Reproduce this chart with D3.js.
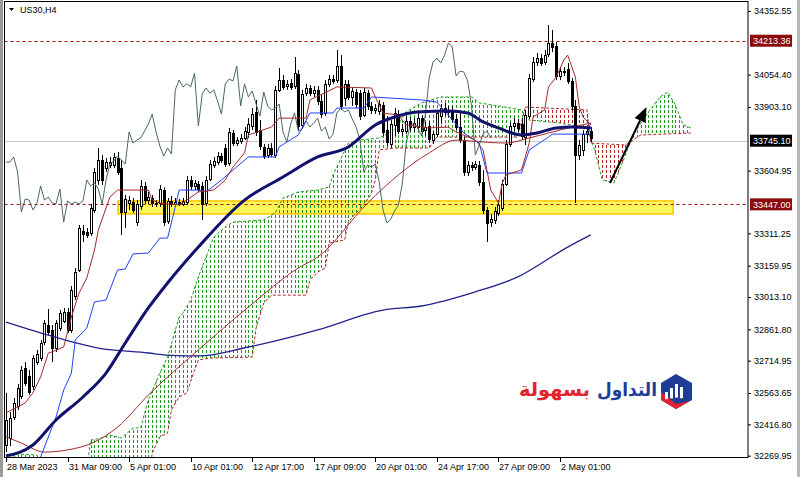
<!DOCTYPE html>
<html><head><meta charset="utf-8">
<script src="https://cdn.jsdelivr.net/npm/d3@7"></script>
<style>html,body{margin:0;padding:0;background:#fff;}svg{display:block;}</style>
</head><body><svg id="c" width="800" height="477"></svg>
<script>
// ---------- DATA (US30, H4) ----------
const openP=[
32320,32353,32451,32503,32549,32681,32643,32596,32709,32727,
32802,32882,32859,32774,32868,32901,32943,32859,33018,33140,
33322,33318,33313,33421,33561,33655,33617,33631,33631,33664,
33617,33411,33453,33458,33364,33439,33533,33467,33477,33453,
33453,33514,33369,33463,33449,33458,33449,33458,33561,33533,
33542,33533,33453,33566,33631,33645,33673,33711,33641,33781,
33734,33744,33758,33786,33814,33880,33795,33716,33678,33711,
33678,33983,34029,34001,34015,34001,34057,33819,33968,33992,
33968,33983,33931,33875,34011,34034,34029,34095,33945,34011,
33950,33973,33968,33865,33968,33908,33889,33884,33912,33795,
33730,33819,33870,33790,33790,33837,33809,33809,33851,33795,
33814,33748,33776,33861,33898,33880,33889,33847,33809,33748,
33599,33631,33622,33631,33552,33421,33364,33374,33407,33430,
33542,33730,33814,33828,33823,33762,33861,34034,34114,34132,
34114,34151,34203,34189,34048,34071,34081,34025,33908,33678,
33702,33776,33790];
const highP=[
32564,32475,32540,32606,32690,32709,32671,32741,32765,32812,
32905,32957,32882,32905,32952,32962,32962,33065,33149,33350,
33350,33336,33449,33617,33711,33678,33664,33669,33688,33692,
33655,33491,33486,33477,33467,33561,33552,33505,33491,33467,
33538,33528,33477,33486,33477,33472,33477,33580,33580,33561,
33556,33552,33580,33655,33669,33692,33688,33730,33805,33795,
33762,33776,33809,33851,33898,33936,33842,33730,33730,33734,
34001,34086,34053,34029,34034,34137,34076,33983,34011,34006,
34001,34001,33964,34029,34053,34053,34170,34146,34029,34029,
33992,33987,33983,33992,33983,33926,33917,33936,33926,33861,
33842,33898,33889,33823,33861,33856,33851,33875,33865,33833,
33837,33790,33889,33917,33922,33908,33908,33870,33875,33762,
33650,33645,33650,33650,33608,33435,33402,33435,33467,33561,
33748,33833,33851,33847,33851,33889,34057,34137,34156,34151,
34170,34287,34264,34207,34090,34090,34109,34039,33936,33748,
33795,33814,33809];
const lowP=[
32287,32315,32437,32484,32535,32596,32554,32578,32695,32713,
32788,32835,32709,32756,32854,32891,32845,32845,32999,33130,
33271,33289,33299,33407,33538,33538,33599,33617,33617,33585,
33304,33336,33421,33407,33346,33421,33449,33449,33435,33435,
33435,33346,33355,33435,33439,33439,33439,33444,33514,33514,
33505,33374,33439,33556,33617,33631,33641,33622,33627,33720,
33720,33730,33748,33758,33795,33767,33702,33659,33664,33669,
33664,33973,33983,33983,33983,33987,33795,33805,33954,33954,
33950,33912,33851,33861,33997,34011,34015,33889,33908,33936,
33908,33898,33842,33856,33889,33870,33870,33865,33767,33720,
33711,33767,33776,33767,33776,33790,33786,33795,33776,33767,
33734,33730,33762,33823,33861,33856,33833,33795,33734,33580,
33580,33603,33608,33533,33402,33271,33341,33355,33392,33416,
33533,33716,33790,33786,33748,33725,33847,34020,34095,34095,
34100,34137,34160,34029,34029,34048,34011,33889,33453,33655,
33673,33734,33739];
const closeP=[
32437,32446,32517,32587,32671,32610,32568,32727,32746,32798,
32891,32849,32774,32891,32938,32943,32859,33046,33130,33336,
33308,33304,33430,33599,33655,33561,33645,33645,33669,33599,
33411,33472,33467,33421,33449,33533,33467,33481,33453,33449,
33519,33364,33463,33449,33458,33449,33463,33561,33533,33547,
33519,33449,33561,33636,33650,33673,33655,33636,33786,33734,
33748,33758,33790,33823,33870,33786,33720,33673,33711,33683,
33983,34029,33997,34011,33997,34062,33814,33964,33992,33968,
33983,33931,33870,34011,34034,34025,34095,33908,34011,33950,
33978,33917,33861,33973,33908,33889,33898,33917,33786,33739,
33823,33875,33790,33800,33837,33809,33828,33851,33790,33809,
33753,33776,33875,33898,33880,33889,33847,33809,33748,33599,
33631,33622,33636,33552,33421,33360,33378,33416,33444,33542,
33730,33814,33828,33805,33767,33865,34039,34114,34132,34109,
34146,34203,34184,34048,34071,34067,34025,33908,33678,33725,
33776,33790,33758];

// time axis (bar index of each label)
const xTickIdx=[0,16,32,48,64,80,96,112,128,144];
const xTickLabels=["28 Mar 2023","31 Mar 09:00","5 Apr 01:00","10 Apr 01:00","12 Apr 17:00","17 Apr 09:00","20 Apr 01:00","24 Apr 17:00","27 Apr 09:00","2 May 01:00"];
// price axis
const yTicks=[34352.55,34054.40,33903.10,33604.95,33311.25,33159.95,33013.10,32861.80,32714.95,32563.65,32416.80,32269.95];
const resistLevel=34213.36, bidLevel=33745.10, supportLevel=33447.00;
const zoneIdx=[29.1,173.4], zonePrice=[33402,33463];

// moving averages (bar index, value)
const maFastIdx=[0,7,13,20,26,31,37,42,50,62,72,81,89,96,101,107,115,120,124,128,134,138,143,147,152];
const maFastVal=[32269,32320,32437,32545,32657,32798,32962,33079,33247,33467,33575,33669,33716,33819,33856,33880,33884,33875,33833,33805,33772,33781,33805,33809,33805];
const maSlowIdx=[0,11,24,37,42,50,63,76,81,98,108,122,133,146,152];
const maSlowVal=[32896,32835,32774,32751,32741,32737,32779,32835,32859,32952,32971,33037,33107,33247,33304];
const maRedIdx=[0,4,10,16,23,29,37,50,63,76,81,94,102,110,117,124,130,136,144,152];
const maRedVal=[32358,32329,32287,32297,32334,32404,32554,32765,32966,33149,33200,33453,33585,33688,33748,33739,33734,33758,33795,33828];

// Ichimoku
const tenkanIdx=[0,3,5,7,9,11,12,15,17,19,21,23,24,27,29,37,38,40,45,47,50,54,57,59,62,63,69,71,78,79,86,95,96,98,102,104,110,115,117,122,124,126,128,129,130,134,136,137,140,141,143,145,146,148,149,150,152];
const tenkanVal=[32470,32498,32517,32564,32639,32751,32756,32779,32920,33032,33102,33233,33327,33481,33514,33514,33467,33453,33444,33467,33505,33514,33561,33622,33688,33772,33809,33851,33851,33936,33997,33992,33950,33875,33865,33819,33805,33809,33786,33748,33702,33514,33453,33547,33585,33608,33734,33856,33889,33997,34043,34123,34146,34043,33903,33856,33819];
const kijunIdx=[6,9,13,15,17,18,21,23,26,29,31,33,37,40,42,44,45,50,52,56,59,63,70,71,76,79,85,86,93,95,108,112,119,123,125,134,136,141,142,151,152];
const kijunVal=[32203,32264,32451,32578,32657,32812,32868,32990,32999,33140,33144,33215,33219,33289,33289,33435,33514,33514,33505,33561,33608,33669,33669,33716,33772,33875,33875,33898,33898,33950,33936,33926,33781,33734,33594,33594,33702,33762,33776,33776,33828];
const senkouAIdx=[0,2,8,10,21,22,25,27,30,33,35,37,40,42,45,46,48,50,52,54,57,59,67,70,72,76,81,84,85,89,92,97,101,104,108,113,121,123,128,134,136,144,151,153,155,158,160,163,167,170,172,174,176,178];
const senkouAVal=[32203,32278,32273,32203,32203,32343,32353,32367,32353,32400,32400,32531,32657,32732,32920,32938,32999,33107,33200,33294,33341,33364,33374,33407,33477,33505,33514,33528,33585,33734,33748,33758,33795,33880,33922,33950,33950,33922,33908,33889,33842,33828,33805,33702,33561,33547,33631,33772,33880,33950,33973,33912,33819,33805];
const senkouBIdx=[0,37,38,40,42,43,45,47,49,50,53,64,65,67,69,78,79,81,83,84,88,89,91,93,95,96,97,101,110,112,133,135,151,152,161,165,178];
const senkouBVal=[32109,32109,32283,32358,32376,32484,32545,32564,32671,32718,32727,32732,32868,32985,33022,33022,33093,33130,33149,33266,33280,33364,33407,33444,33500,33561,33702,33711,33711,33762,33762,33903,33889,33734,33725,33772,33781];
const chikouShift=26;
const arrowFrom=[157,33547], arrowTo=[166.5,33903];

// ---------- DRAW ----------
const svg=d3.select("#c");
const L=4.5,T=2.5,R=748,B=458;
const x=d3.scaleLinear().domain([0,144]).range([6,560]);
const y=d3.scaleLinear().domain([32269.95,34352.55]).range([455.7,11]);
const zip=(a,b)=>a.map((v,i)=>[v,b[i]]);
const FONT="'Liberation Sans', Arial, sans-serif";

svg.append("rect").attr("width",800).attr("height",477).attr("fill","#fff");
const defs=svg.append("defs");
defs.append("clipPath").attr("id","plot").append("rect").attr("x",L+0.5).attr("y",T+0.5).attr("width",R-L-1).attr("height",B-T-1);

const A=zip(senkouAIdx,senkouAVal), Bs=zip(senkouBIdx,senkouBVal);
const areaBelow=d=>d3.area().x(p=>x(p[0])).y0(p=>y(p[1])).y1(600)(d);
const areaAbove=d=>d3.area().x(p=>x(p[0])).y0(-100).y1(p=>y(p[1]))(d);
defs.append("clipPath").attr("id","belowA").append("path").attr("d",areaBelow(A));
defs.append("clipPath").attr("id","aboveA").append("path").attr("d",areaAbove(A));
defs.append("clipPath").attr("id","belowB").append("path").attr("d",areaBelow(Bs));
defs.append("clipPath").attr("id","aboveB").append("path").attr("d",areaAbove(Bs));

const plot=svg.append("g").attr("clip-path","url(#plot)");

// support zone
plot.append("rect").attr("x",x(zoneIdx[0])).attr("width",x(zoneIdx[1])-x(zoneIdx[0]))
  .attr("y",y(zonePrice[1])).attr("height",y(zonePrice[0])-y(zonePrice[1]))
  .attr("fill","#FFF75A").attr("stroke","#FFC400").attr("stroke-width",1.5);

// bid line
plot.append("line").attr("x1",L).attr("x2",R).attr("y1",Math.round(y(bidLevel))+0.5).attr("y2",Math.round(y(bidLevel))+0.5)
  .attr("stroke","#C8C8C8").attr("stroke-width",1);

// cloud hatching
const hatchIdx=d3.range(0,d3.max(senkouAIdx)+1);
function hatch(outer,inner,color){
  const g=plot.append("g").attr("clip-path",`url(#${outer})`).append("g").attr("clip-path",`url(#${inner})`);
  g.selectAll("line").data(hatchIdx).join("line")
    .attr("x1",d=>Math.round(x(d))+0.5).attr("x2",d=>Math.round(x(d))+0.5)
    .attr("y1",0).attr("y2",B).attr("stroke",color).attr("stroke-width",1).attr("stroke-dasharray","3,2");
}
hatch("belowA","aboveB","#1E9A1E");
hatch("belowB","aboveA","#B22222");
const line=d3.line().x(p=>x(p[0])).y(p=>y(p[1]));
plot.append("path").attr("d",line(A)).attr("fill","none").attr("stroke","#1E9A1E").attr("stroke-dasharray","3,2");
plot.append("path").attr("d",line(Bs)).attr("fill","none").attr("stroke","#B22222").attr("stroke-dasharray","3,2");

// horizontal levels
[resistLevel,supportLevel].forEach(v=>{
  const yy=Math.round(y(v))+0.5;
  plot.append("line").attr("x1",L).attr("x2",R).attr("y1",yy).attr("y2",yy)
    .attr("stroke","#A01010").attr("stroke-width",1).attr("stroke-dasharray","3,3");
});

// candles
const bars=d3.range(openP.length);
const cg=plot.append("g");
cg.selectAll("line").data(bars).join("line")
  .attr("x1",i=>Math.round(x(i))+0.5).attr("x2",i=>Math.round(x(i))+0.5)
  .attr("y1",i=>y(highP[i])).attr("y2",i=>y(lowP[i])).attr("stroke","#000").attr("stroke-width",1);
cg.selectAll("rect").data(bars).join("rect")
  .attr("x",i=>Math.round(x(i))-0.5).attr("width",2)
  .attr("y",i=>Math.round(y(Math.max(openP[i],closeP[i])))+0.5)
  .attr("height",i=>Math.max(1,Math.round(y(Math.min(openP[i],closeP[i]))-y(Math.max(openP[i],closeP[i])))))
  .attr("fill",i=>closeP[i]>=openP[i]?"#fff":"#000").attr("stroke","#000").attr("stroke-width",1);

// indicator lines
const curve=d3.line().x(p=>x(p[0])).y(p=>y(p[1])).curve(d3.curveMonotoneX);
plot.append("path").attr("d",curve(zip(maSlowIdx,maSlowVal))).attr("fill","none").attr("stroke","#23238F").attr("stroke-width",1.3);
plot.append("path").attr("d",curve(zip(maRedIdx,maRedVal))).attr("fill","none").attr("stroke","#A52A2A").attr("stroke-width",1);
const chikou=closeP.slice(chikouShift).map((c,i)=>[i,c]);
plot.append("path").attr("d",line(chikou)).attr("fill","none").attr("stroke","#4A6666").attr("stroke-width",1);
plot.append("path").attr("d",line(zip(kijunIdx,kijunVal))).attr("fill","none").attr("stroke","#2040FF").attr("stroke-width",1);
plot.append("path").attr("d",line(zip(tenkanIdx,tenkanVal))).attr("fill","none").attr("stroke","#A52A2A").attr("stroke-width",1);
plot.append("path").attr("d",curve(zip(maFastIdx,maFastVal))).attr("fill","none").attr("stroke","#12126E").attr("stroke-width",3);

// arrow
{
  const x1=x(arrowFrom[0]),y1=y(arrowFrom[1]),x2=x(arrowTo[0]),y2=y(arrowTo[1]);
  const a=Math.atan2(y2-y1,x2-x1),hl=15,hw=6;
  const bx=x2-hl*Math.cos(a),by=y2-hl*Math.sin(a);
  plot.append("line").attr("x1",x1).attr("y1",y1).attr("x2",bx).attr("y2",by).attr("stroke","#000").attr("stroke-width",2);
  plot.append("path").attr("d",`M${x2},${y2}L${bx+hw*Math.sin(a)},${by-hw*Math.cos(a)}L${bx-hw*Math.sin(a)},${by+hw*Math.cos(a)}Z`).attr("fill","#000");
}

// frame
svg.append("rect").attr("x",0).attr("y",0).attr("width",3).attr("height",477).attr("fill","#9A9A9A");
svg.append("rect").attr("x",797).attr("y",0).attr("width",3).attr("height",477).attr("fill","#B8B8B8");
svg.append("rect").attr("x",L).attr("y",T-1).attr("width",R-L).attr("height",B-T+0.5)
  .attr("fill","none").attr("stroke","#000").attr("stroke-width",1);

// right axis
const ax=svg.append("g").attr("transform",`translate(${R},0)`)
  .call(d3.axisRight(y).tickValues(yTicks).tickSize(3).tickPadding(3).tickFormat(d3.format(".2f")));
ax.select(".domain").remove();
ax.selectAll("text").attr("font-family",FONT).attr("font-size",9).attr("fill","#000");
ax.selectAll("line").attr("stroke","#000");
[[resistLevel,"#8B0A0A"],[bidLevel,"#000"],[supportLevel,"#8B0A0A"]].forEach(([v,c])=>{
  const yy=y(v);
  svg.append("rect").attr("x",750).attr("y",yy-6).attr("width",42).attr("height",12).attr("fill",c);
  svg.append("text").attr("x",753).attr("y",yy+3.3).attr("font-family",FONT).attr("font-size",9)
    .attr("fill","#fff").text(d3.format(".2f")(v));
});

// bottom axis
const bx=svg.append("g");
bx.selectAll("line").data(xTickIdx).join("line")
  .attr("x1",d=>Math.round(x(d))+0.5).attr("x2",d=>Math.round(x(d))+0.5).attr("y1",B).attr("y2",B+4).attr("stroke","#000");
bx.selectAll("text").data(xTickIdx).join("text")
  .attr("x",d=>Math.round(x(d))+1).attr("y",B+12).attr("font-family",FONT).attr("font-size",9).attr("fill","#000")
  .text((d,i)=>xTickLabels[i]);

// title
svg.append("path").attr("d","M9,8L14,8L11.5,11Z").attr("fill","#000");
svg.append("text").attr("x",20).attr("y",13).attr("font-family",FONT).attr("font-size",9).attr("fill","#000").text("US30,H4");

// logo
const lg=svg.append("g");
lg.append("text").attr("x",597).attr("y",396).attr("font-family","'DejaVu Sans',sans-serif")
  .attr("font-weight","bold").attr("font-size",19).attr("fill","#1F3C96")
  .attr("textLength",60).attr("lengthAdjust","spacingAndGlyphs").text("التداول");
lg.append("text").attr("x",519).attr("y",396).attr("font-family","'DejaVu Sans',sans-serif")
  .attr("font-weight","bold").attr("font-size",19).attr("fill","#E2232E")
  .attr("textLength",71).attr("lengthAdjust","spacingAndGlyphs").text("بسهولة");
lg.append("path").attr("d","M676,374L692,383L692,400L676,409L661,400L661,383Z").attr("fill","#1F3C96");
lg.append("path").attr("d","M661,392L661,400L676,409L690,401L676,404Z").attr("fill","#E2232E");
[[665,392,9],[670,388,13],[675,384,17],[680,387,14]].forEach(([bx0,by0,h])=>{
  lg.append("rect").attr("x",bx0).attr("y",by0).attr("width",3).attr("height",h*0.8).attr("fill","#fff");
});
</script></body></html>
